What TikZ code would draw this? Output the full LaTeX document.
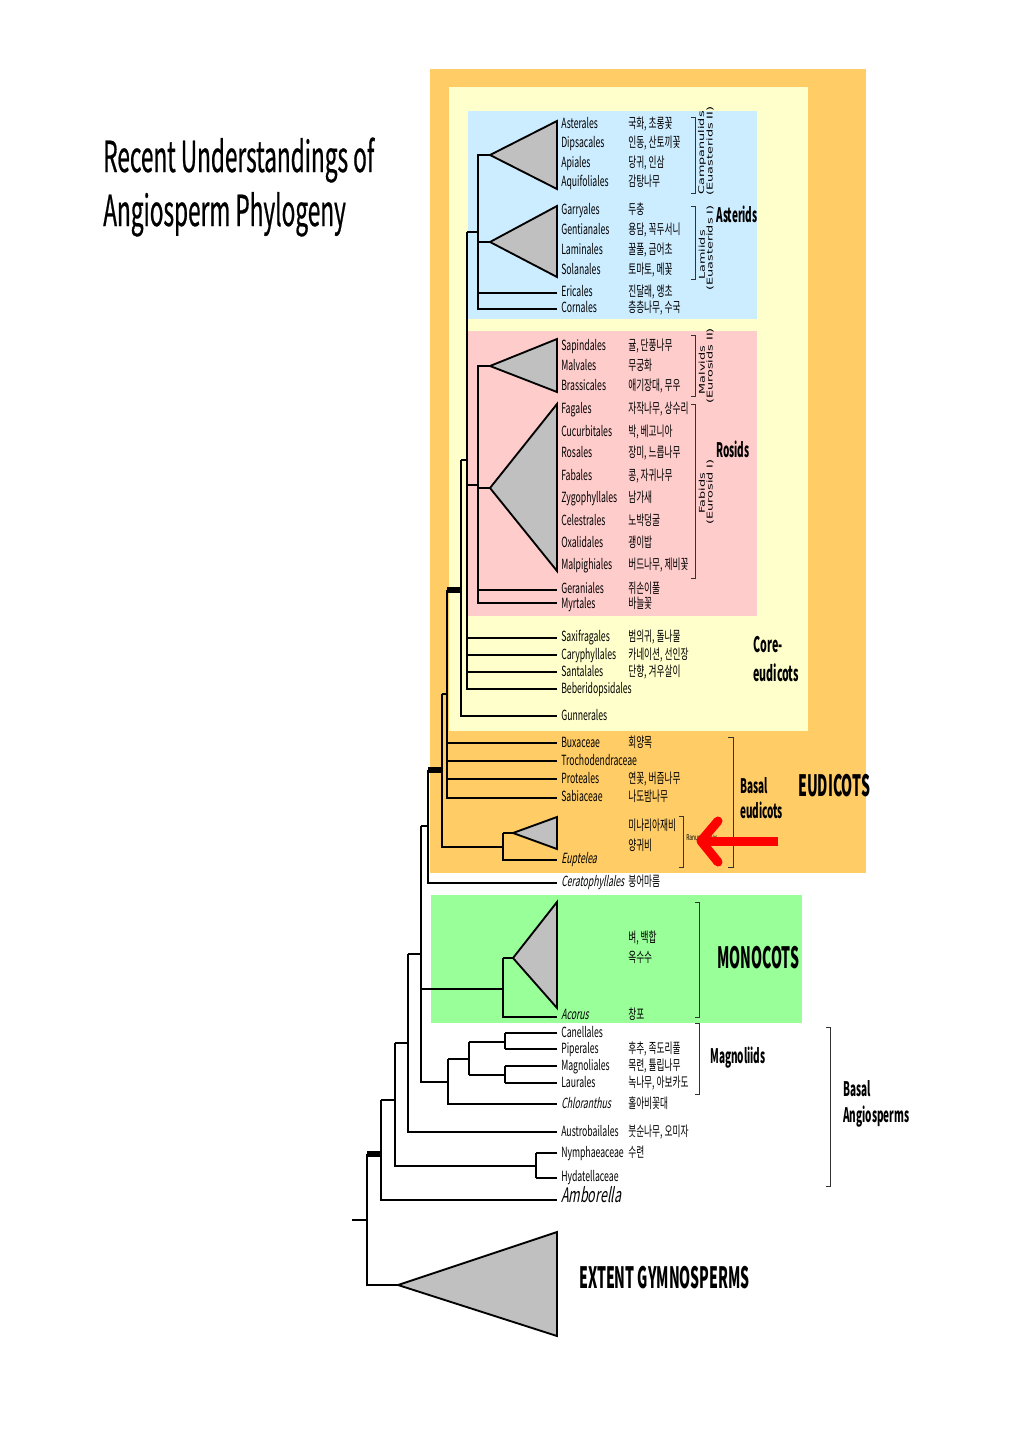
\documentclass[tikz,border=0pt]{standalone}
\usepackage{fontspec}
\setmainfont{Noto Sans CJK KR}[FakeStretch=0.62]
\newfontfamily\slfont{Noto Sans CJK KR}[FakeStretch=0.62,FakeSlant=0.18]
\newfontfamily\ttlfont{Noto Sans CJK KR}[FakeStretch=0.53,FakeBold=0.5]
\newfontfamily\hdfont{Noto Sans CJK KR}[FakeStretch=0.5]
\newfontfamily\bgfont{Noto Sans CJK KR}[FakeStretch=0.48]
\newfontfamily\vlfont{DejaVu Sans}[FakeStretch=1.6]
\definecolor{orangebg}{HTML}{FFCC66}
\definecolor{yellowbg}{HTML}{FFFFCC}
\definecolor{bluebg}{HTML}{CCECFF}
\definecolor{pinkbg}{HTML}{FFCCCC}
\definecolor{greenbg}{HTML}{99FF99}
\definecolor{trigray}{HTML}{C0C0C0}
\newcommand\lblfont{\fontsize{10.5}{12}\selectfont}
\newcommand\lblslfont{\slfont\fontsize{10.5}{12}\selectfont}
\tikzset{
  br/.style={line width=1.3pt, black},
  tri/.style={draw=black, line width=1.4pt, fill=trigray, line join=miter},
  barline/.style={line width=4.5pt, black},
  brk/.style={draw=black!80, line width=0.7pt},
  lat/.style={anchor=west, inner sep=0pt, font=\lblfont, text height=8pt, text depth=1.5pt},
  ita/.style={lat, font=\lblslfont},
  hdr/.style={anchor=west, inner sep=0pt, font=\hdfont\bfseries\fontsize{15}{19}\selectfont, align=left},
  big/.style={anchor=west, inner sep=0pt, font=\bgfont\bfseries\fontsize{22}{26}\selectfont},
  vlab/.style={rotate=90, inner sep=0pt, font=\vlfont\fontsize{6}{7}\selectfont},
}
\begin{document}
\begin{tikzpicture}[x=0.75pt,y=-0.75pt]
\useasboundingbox (0,0) rectangle (1020,1442);
\fill[white] (0,0) rectangle (1020,1442);
% ---------- backgrounds
\fill[orangebg] (430,69) rectangle (866,873);
\fill[yellowbg] (449,87) rectangle (808,731);
\fill[bluebg] (468,111) rectangle (757,319);
\fill[pinkbg] (468,331) rectangle (757,616);
\fill[greenbg] (431,895) rectangle (802,1023);
% ---------- title
\node[anchor=base west, inner sep=0pt, font=\ttlfont\fontsize{32}{38}\selectfont] (title1) at (103,172) {Recent Understandings of};
\node[anchor=base west, inner sep=0pt, font=\ttlfont\fontsize{32}{38}\selectfont] (title2) at (103,226) {Angiosperm Phylogeny};
% ---------- coordinates
\coordinate (campA) at (490,155); \coordinate (campT) at (557,121); \coordinate (campB) at (557,189);
\coordinate (lamA) at (490,242);  \coordinate (lamT) at (557,206);  \coordinate (lamB) at (557,277);
\coordinate (eriE) at (557,293);  \coordinate (cornE) at (557,309);
\coordinate (vAst) at (478,0);
\coordinate (kAst) at (467,232);
\coordinate (malA) at (490,366);  \coordinate (malT) at (557,339);  \coordinate (malB) at (557,392);
\coordinate (fabA) at (490,488);  \coordinate (fabT) at (557,404);  \coordinate (fabB) at (557,571);
\coordinate (gerE) at (557,590);  \coordinate (myrE) at (557,603);
\coordinate (vRos) at (478,0);
\coordinate (kRos) at (467,485);
\coordinate (saxE) at (557,638); \coordinate (caryE) at (557,655); \coordinate (santE) at (557,672); \coordinate (bebE) at (557,689);
\coordinate (vCore) at (467,0);
\coordinate (kCore) at (461,460);
\coordinate (vGun) at (461,0);
\coordinate (gunE) at (557,716);
\coordinate (kEudA) at (447,590);
\coordinate (vBE) at (447,0);
\coordinate (buxE) at (557,743); \coordinate (troE) at (557,761); \coordinate (proE) at (557,779); \coordinate (sabE) at (557,798);
\coordinate (kEudB) at (442,694);
\coordinate (vEB) at (442,0);
\coordinate (ranJ) at (503,847);
\coordinate (ranA) at (513,833); \coordinate (ranT) at (557,817); \coordinate (ranB) at (557,849);
\coordinate (eupE) at (557,860);
\coordinate (kEudC) at (428,770);
\coordinate (vEC) at (428,0);
\coordinate (cerE) at (557,883);
\coordinate (kMes) at (421,826);
\coordinate (vMes) at (421,0);
\coordinate (monJ) at (503,989);
\coordinate (monA) at (513,958); \coordinate (monT) at (557,902); \coordinate (monB) at (557,1008);
\coordinate (acoE) at (557,1017);
\coordinate (magJ) at (448,1082);
\coordinate (kMag) at (469,1059);
\coordinate (vMagA) at (505,1042); \coordinate (vMagB) at (505,1075);
\coordinate (canE) at (557,1033); \coordinate (pipE) at (557,1049);
\coordinate (mgnE) at (557,1066); \coordinate (lauE) at (557,1083);
\coordinate (chlE) at (557,1104);
\coordinate (kAngA) at (408,954);
\coordinate (vAngA) at (408,0);
\coordinate (ausE) at (557,1132);
\coordinate (kAngB) at (395,1043);
\coordinate (vAngB) at (395,0);
\coordinate (nymJ) at (536,1166);
\coordinate (nymE) at (557,1153); \coordinate (hydE) at (557,1178);
\coordinate (kAngC) at (381,1100);
\coordinate (vAngC) at (381,0);
\coordinate (ambE) at (557,1200);
\coordinate (kSeed) at (367,1154);
\coordinate (vSeed) at (367,0);
\coordinate (root) at (352,1220);
\coordinate (gymA) at (398,1285); \coordinate (gymT) at (557,1232); \coordinate (gymB) at (557,1336);
% ---------- triangles
\draw[tri] (campA) -- (campT) -- (campB) -- cycle;
\draw[tri] (lamA) -- (lamT) -- (lamB) -- cycle;
\draw[tri] (malA) -- (malT) -- (malB) -- cycle;
\draw[tri] (fabA) -- (fabT) -- (fabB) -- cycle;
\draw[tri] (ranA) -- (ranT) -- (ranB) -- cycle;
\draw[tri] (monA) -- (monT) -- (monB) -- cycle;
\draw[tri] (gymA) -- (gymT) -- (gymB) -- cycle;
% ---------- asterids
\draw[br] (campA) -- (vAst |- campA) -- (vAst |- cornE) -- (cornE);
\draw[br] (vAst |- lamA) -- (lamA);
\draw[br] (vAst |- eriE) -- (eriE);
\draw[br] (kAst) -- (vAst |- kAst);
% ---------- rosids
\draw[br] (malA) -- (vRos |- malA) -- (vRos |- myrE) -- (myrE);
\draw[br] (vRos |- fabA) -- (fabA);
\draw[br] (vRos |- gerE) -- (gerE);
\draw[br] (kRos) -- (vRos |- kRos);
% ---------- core eudicots
\draw[br] (kAst) -- (vCore |- bebE) -- (bebE);
\foreach \e in {saxE,caryE,santE} \draw[br] (vCore |- \e) -- (\e);
\draw[br] (kCore) -- (vCore |- kCore);
\draw[br] (kCore) -- (vGun |- gunE) -- (gunE);
\draw[br] (kEudA) -- (vGun |- kEudA);
\draw[barline] (kEudA) -- ([xshift=0.5pt]vGun |- kEudA);
% ---------- basal eudicots
\draw[br] (kEudA) -- (vBE |- sabE) -- (sabE);
\foreach \e in {buxE,troE,proE} \draw[br] (vBE |- \e) -- (\e);
\draw[br] (kEudB) -- (vBE |- kEudB);
\draw[br] (kEudB) -- (vEB |- ranJ) -- (ranJ);
\draw[br] (ranJ |- ranA) -- (ranA);
\draw[br] (ranJ |- ranA) -- (ranJ |- eupE) -- (eupE);
\draw[barline] (kEudC) -- (vEB |- kEudC);
\draw[br] (kEudC) -- (vEC |- cerE) -- (cerE);
\draw[br] (kMes) -- (vEC |- kMes);
% ---------- mesangiosperms
\draw[br] (kMes) -- (vMes |- magJ) -- (magJ);
\draw[br] (vMes |- monJ) -- (monJ);
\draw[br] (monJ |- monA) -- (monA);
\draw[br] (monJ |- monA) -- (monJ |- acoE) -- (acoE);
\draw[br] (magJ |- kMag) -- (magJ |- chlE) -- (chlE);
\draw[br] (magJ |- kMag) -- (kMag);
\draw[br] (kMag |- vMagA) -- (kMag |- vMagB);
\draw[br] (kMag |- vMagA) -- (vMagA);
\draw[br] (kMag |- vMagB) -- (vMagB);
\draw[br] (vMagA |- canE) -- (vMagA |- pipE);
\draw[br] (vMagA |- canE) -- (canE);
\draw[br] (vMagA |- pipE) -- (pipE);
\draw[br] (vMagB |- mgnE) -- (vMagB |- lauE);
\draw[br] (vMagB |- mgnE) -- (mgnE);
\draw[br] (vMagB |- lauE) -- (lauE);
\draw[br] (kAngA) -- (vMes |- kAngA);
% ---------- basal angiosperms
\draw[br] (kAngA) -- (vAngA |- ausE) -- (ausE);
\draw[br] (kAngB) -- (vAngA |- kAngB);
\draw[br] (kAngB) -- (vAngB |- nymJ) -- (nymJ);
\draw[br] (nymJ |- nymE) -- (nymJ |- hydE);
\draw[br] (nymJ |- nymE) -- (nymE);
\draw[br] (nymJ |- hydE) -- (hydE);
\draw[br] (kAngC) -- (vAngB |- kAngC);
\draw[br] (kAngC) -- (vAngC |- ambE) -- (ambE);
\draw[barline] (kSeed) -- (vAngC |- kSeed);
\draw[br] (kSeed) -- (vSeed |- gymA) -- (gymA);
\draw[br] (root) -- (vSeed |- root);
% ---------- leaf labels (Latin)
\foreach \n/\y/\t in {
  lAst1/124/Asterales, lAst2/143/Dipsacales, lAst3/163/Apiales, lAst4/182/Aquifoliales,
  lAst5/210/Garryales, lAst6/230/Gentianales, lAst7/250/Laminales, lAst8/270/Solanales,
  lAst9/292/Ericales, lAst10/308/Cornales,
  lRos1/346/Sapindales, lRos2/366/Malvales, lRos3/386/Brassicales, lRos4/409/Fagales,
  lRos5/432/Cucurbitales, lRos6/453/Rosales, lRos7/476/Fabales, lRos8/498/Zygophyllales,
  lRos9/521/Celestrales, lRos10/543/Oxalidales, lRos11/565/Malpighiales,
  lRos12/589/Geraniales, lRos13/604/Myrtales,
  lCor1/637/Saxifragales, lCor2/655/Caryphyllales, lCor3/672/Santalales, lCor4/689/Beberidopsidales,
  lGun/716/Gunnerales,
  lBe1/743/Buxaceae, lBe2/761/Trochodendraceae, lBe3/779/Proteales, lBe4/797/Sabiaceae,
  lMg1/1033/Canellales, lMg2/1049/Piperales, lMg3/1066/Magnoliales, lMg4/1083/Laurales,
  lAus/1132/Austrobailales, lNym/1153/Nymphaeaceae, lHyd/1177/Hydatellaceae}
  \node[lat] (\n) at (561,\y) {\t};
\node[ita] (lEup) at (561,859) {Euptelea};
\node[ita] (lCer) at (561,882) {Ceratophyllales};
\node[ita] (lAco) at (561,1015) {Acorus};
\node[ita] (lChl) at (561,1104) {Chloranthus};
\node[lat, font=\slfont\fontsize{15}{17}\selectfont, text height=11pt, text depth=3pt] (lAmb) at (561,1197) {Amborella};
% ---------- leaf labels (Korean)
\foreach \n/\y/\t in {
  kAst1/124/{국화, 초롱꽃}, kAst2/143/{인동, 산토끼꽃}, kAst3/163/{당귀, 인삼}, kAst4/182/{감탕나무},
  kAst5/210/{두충}, kAst6/230/{용담, 꼭두서니}, kAst7/250/{꿀풀, 금어초}, kAst8/270/{토마토, 메꽃},
  kAst9/292/{진달래, 앵초}, kAst10/308/{층층나무, 수국},
  kRos1/346/{귤, 단풍나무}, kRos2/366/{무궁화}, kRos3/386/{애기장대, 무우}, kRos4/409/{자작나무, 상수리},
  kRos5/432/{박, 베고니아}, kRos6/453/{장미, 느릅나무}, kRos7/476/{콩, 자귀나무}, kRos8/498/{남가새},
  kRos9/521/{노박덩굴}, kRos10/543/{괭이밥}, kRos11/565/{버드나무, 제비꽃},
  kRos12/589/{쥐손이풀}, kRos13/604/{바늘꽃},
  kCor1/637/{범의귀, 돌나물}, kCor2/655/{카네이션, 선인장}, kCor3/672/{단향, 겨우살이},
  kBe1/743/{회양목}, kBe3/779/{연꽃, 버즘나무}, kBe4/797/{나도밤나무},
  kRan1/826/{미나리아재비}, kRan2/846/{양귀비}, kCer/882/{붕어마름},
  kMon1/938/{벼, 백합}, kMon2/958/{옥수수}, kAco/1015/{창포},
  kMg2/1049/{후추, 족도리풀}, kMg3/1066/{목련, 튤립나무}, kMg4/1083/{녹나무, 아보카도},
  kChl/1104/{홀아비꽃대}, kAus/1132/{붓순나무, 오미자}, kNym/1153/{수련}}
  \node[lat] (\n) at (628,\y) {\t};
% ---------- brackets
\draw[brk] (691,117) -- (695,117) -- (695,193) -- (691,193);
\draw[brk] (691,206) -- (695,206) -- (695,279) -- (691,279);
\draw[brk] (691,335) -- (695,335) -- (695,396) -- (691,396);
\draw[brk] (691,404) -- (695,404) -- (695,578) -- (691,578);
\draw[brk] (728,737) -- (733,737) -- (733,867) -- (728,867);
\draw[brk] (679,816) -- (683,816) -- (683,867) -- (679,867);
\draw[brk] (695,902) -- (699,902) -- (699,1017) -- (695,1017);
\draw[brk] (695,1023) -- (699,1023) -- (699,1094) -- (695,1094);
\draw[brk] (826,1027) -- (830,1027) -- (830,1186) -- (826,1186);
% ---------- rotated bracket labels
\node[vlab] (vCamp1) at (702,153) {Campanulids};
\node[vlab] (vCamp2) at (710,151) {(Euasterids II)};
\node[vlab] (vLam1) at (702,255) {Lamiids};
\node[vlab] (vLam2) at (710,248) {(Euasterids I)};
\node[vlab] (vMal1) at (702,370) {Malvids};
\node[vlab] (vMal2) at (710,366) {(Eurosids II)};
\node[vlab] (vFab1) at (702,493) {Fabids};
\node[vlab] (vFab2) at (710,492) {(Eurosid I)};
% ---------- group labels
\node[hdr] (hAst) at (716,214) {Asterids};
\node[hdr] (hRos) at (716,449) {Rosids};
\node[hdr, font=\hdfont\bfseries\fontsize{16}{22}\selectfont] (hCore) at (753,659) {Core-\\eudicots};
\node[hdr] (hBE) at (740,798) {Basal\\eudicots};
\node[big] (hEud) at (798,786) {EUDICOTS};
\node[big] (hMon) at (717,958) {MONOCOTS};
\node[hdr] (hMag) at (710,1058) {Magnoliids};
\node[hdr, font=\hdfont\bfseries\fontsize{15}{20}\selectfont] (hBA) at (843,1104) {Basal\\Angiosperms};
\node[big] (hGym) at (579,1278) {EXTENT GYMNOSPERMS};
% ---------- Ranunculales label and red arrow
\node[anchor=west, inner sep=0pt, font=\fontsize{6}{7}\selectfont] (lRan) at (686,837) {Ranunculales};
\coordinate (arrS) at (778,841);
\coordinate (arrT) at (701,841);
\draw[red, line width=6.75pt] (arrS) -- ([xshift=3pt]arrT);
\draw[red, line width=6.75pt, line cap=round, line join=round] (718,821) -- (arrT) -- (718,862);
\end{tikzpicture}
\end{document}
